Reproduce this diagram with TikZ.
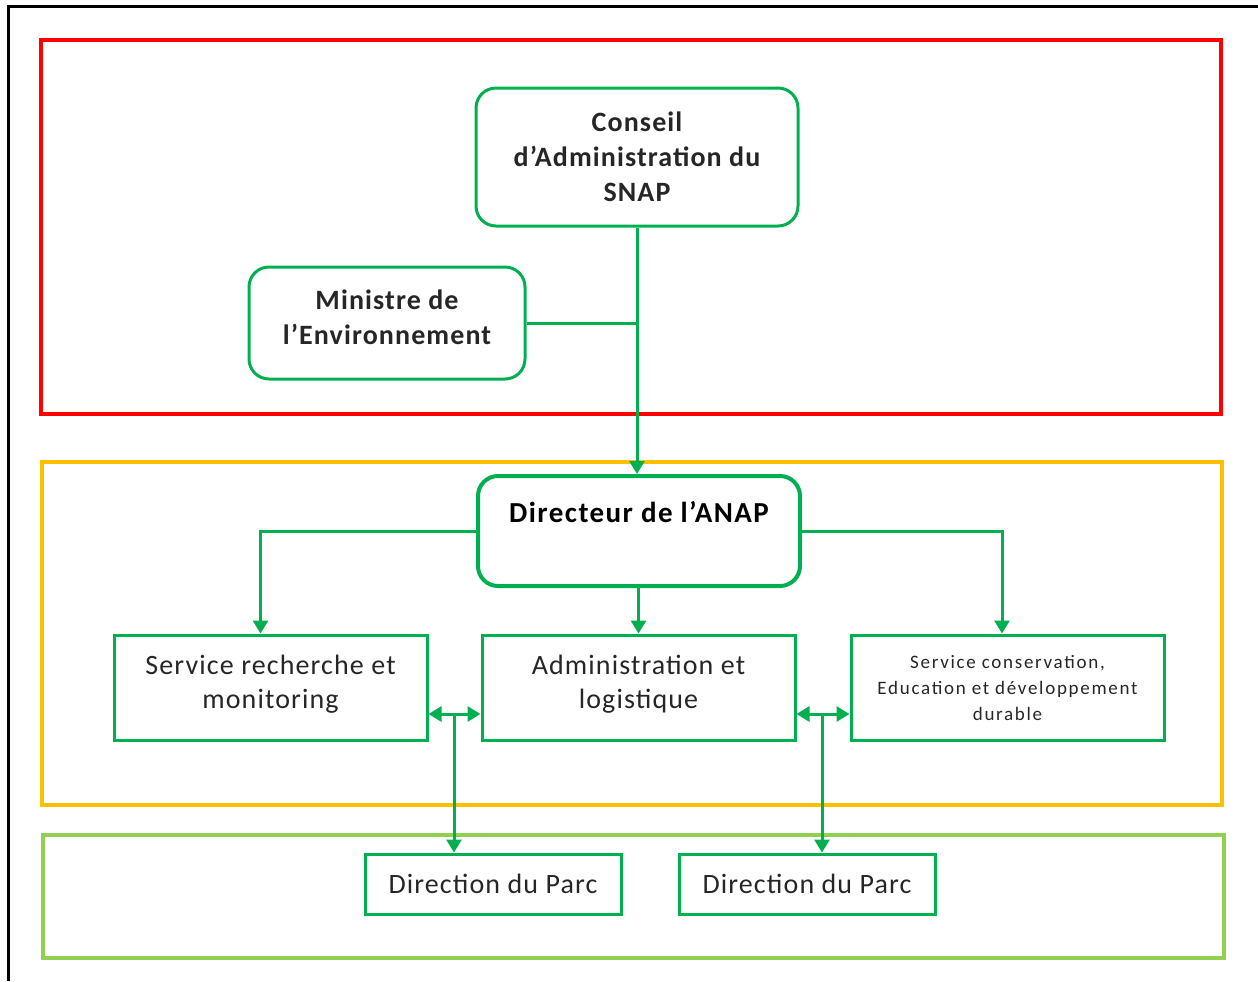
\documentclass[tikz,border=0pt]{standalone}
\usepackage{fontspec}
\setmainfont{Carlito}
\usepackage{tikz}
\usetikzlibrary{shapes,arrows,arrows.meta,positioning}
\definecolor{boxgreen}{HTML}{00B050}
\definecolor{zonered}{HTML}{FF0000}
\definecolor{zoneorange}{HTML}{FFC000}
\definecolor{zonegreen}{HTML}{92D050}
\definecolor{textgray}{HTML}{262626}

\begin{document}
\begin{tikzpicture}[x=0.5pt,y=-0.5pt, zone/.style = {draw, line width=1.6pt}, board/.style = {rectangle, draw=boxgreen, line width=1.5pt, rounded corners=10pt, text=textgray, align=center, font=\fontsize{14}{17.5}\selectfont\bfseries\addfontfeature{LetterSpace=4}}, service/.style = {rectangle, draw=boxgreen, line width=1.5pt, text=textgray, align=center, minimum width=156.5pt, minimum height=52.5pt, font=\fontsize{14}{17}\selectfont\addfontfeature{LetterSpace=4}}, line/.style = {draw=boxgreen, line width=1.5pt, -{Triangle[length=6.5pt,width=7.5pt]}}, link/.style = {draw=boxgreen, line width=1.5pt, {Triangle[length=6.5pt,width=7.5pt]}-{Triangle[length=6.5pt,width=7.5pt]}}]
					\useasboundingbox (0,0) rectangle (1258,981);
					\draw[line width=1.5pt] (1258,6) -| (8,981);
					\draw[zone,zonered] (41,40) rectangle (1221,414);
					\draw[zone,zoneorange] (42,462) rectangle (1222,805);
					\draw[zone,zonegreen] (43,835) rectangle (1224,958);
					
					\node[board,minimum width=161pt,minimum height=69pt] (conseil) at (637,157) {Conseil\\d’Administration du\\SNAP};
					\node[board,minimum width=138pt,minimum height=56pt,text depth=6pt] (ministre) at (387,323) {Ministre de\\l’Environnement};
					\node[board,line width=2pt,minimum width=161pt,minimum height=55pt,text height=10pt,text depth=19pt,font=\fontsize{14.5}{17}\selectfont\bfseries\addfontfeature{LetterSpace=5},text=black] (directeur) at (639,531) {Directeur de l’ANAP};
					\node[service,text depth=6pt] (recherche) at (270.5,687.5) {Service recherche et\\monitoring};
					\node[service,text depth=6pt] (admin) at (638.5,687.5) {Administration et\\logistique};
					\node[service,font=\fontsize{9.5}{13}\selectfont\addfontfeature{LetterSpace=9}] (conservation) at (1007.5,687.5) {Service conservation,\\Education et développement\\durable};
					\node[service,minimum width=128pt,minimum height=30pt] (parc1) at (493,884) {Direction du Parc};
					\node[service,minimum width=128pt,minimum height=30pt] (parc2) at (807,884) {Direction du Parc};
					\coordinate (jonction1) at (454,714);
					\coordinate (jonction2) at (822,714);
					
					\path[line] (conseil.south) -- (conseil.south |- directeur.north);
					\path[draw=boxgreen,line width=1.5pt] (ministre.east) -- (ministre.east -| conseil.south);
					\path[line] (directeur.west) -| ([xshift=-5pt]recherche.north);
					\path[line] (directeur.east) -| ([xshift=-2.75pt]conservation.north);
					\path[line] (directeur.south -| admin.north) -- (admin.north);
					\path[link] (recherche.east |- jonction1) -- (admin.west |- jonction1);
					\path[link] (admin.east |- jonction2) -- (conservation.west |- jonction2);
					\path[line] (jonction1) -- (jonction1 |- parc1.north);
					\path[line] (jonction2) -- (jonction2 |- parc2.north);
				\end{tikzpicture}
\end{document}
